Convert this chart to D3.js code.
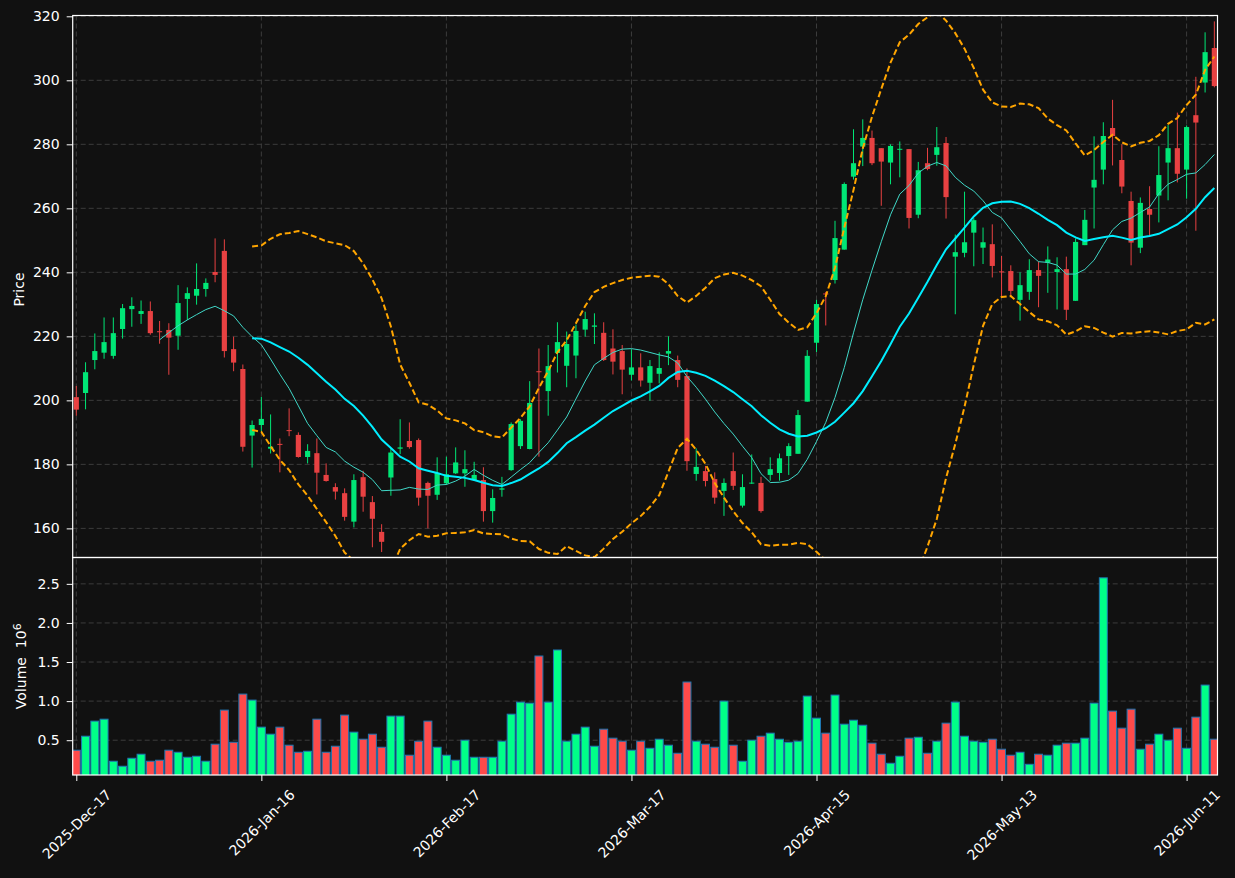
<!DOCTYPE html>
<html>
<head>
<meta charset="utf-8">
<script src="https://cdn.jsdelivr.net/npm/d3@7"></script>
<style>
body { margin: 0; background: #111111; }
svg text { font-family: "DejaVu Sans", sans-serif; fill: #ffffff; }
</style>
</head>
<body>
<svg id="chart" width="1235" height="878"></svg>
<script>
// daily OHLC
var openP = [201.0,202.3,212.6,214.9,213.9,222.3,228.5,227.0,227.9,221.6,
222.0,220.2,231.7,232.7,234.8,240.1,246.7,216.0,209.8,189.0,
192.3,184.9,186.4,190.7,189.2,182.3,183.5,176.7,172.9,171.0,
162.1,176.0,168.2,158.9,175.9,184.9,187.3,187.6,174.2,170.5,
174.1,177.2,177.2,175.1,175.1,165.4,172.1,178.2,185.7,184.8,
209.1,202.9,214.8,210.8,214.0,222.1,223.0,221.1,216.2,215.4,
208.0,210.3,205.5,208.3,214.6,212.6,207.6,177.0,177.9,175.4,
171.7,177.9,167.1,174.1,174.2,176.7,177.3,182.6,183.3,199.6,
218.0,233.4,237.6,247.1,269.9,279.3,282.0,278.8,274.3,278.3,
278.5,258.0,274.1,276.7,280.4,244.9,246.1,252.4,247.7,248.8,
240.3,240.4,231.4,233.9,240.7,243.0,240.1,241.0,231.1,248.5,
266.5,272.1,285.1,275.1,262.3,247.7,259.8,264.0,274.3,278.8,
272.1,289.1,299.3,310.1];
var highP = [204.5,211.9,220.9,225.9,225.9,230.1,232.2,231.2,230.9,224.8,
224.1,236.0,235.3,242.8,238.1,250.6,250.3,219.9,211.2,193.7,
201.1,195.6,188.1,197.5,190.0,186.3,188.1,180.3,174.1,172.5,
176.9,178.0,170.1,161.3,185.0,194.1,193.1,188.1,174.6,182.2,
182.4,185.3,184.4,180.8,179.1,172.2,176.1,193.1,194.1,206.0,
216.2,217.3,224.4,221.5,223.7,227.7,227.2,224.4,222.2,217.3,
216.0,214.7,212.6,215.0,220.0,214.0,210.0,185.0,179.5,177.5,
175.6,183.7,176.9,183.1,176.1,182.2,183.4,186.6,197.0,215.7,
231.4,233.9,256.1,268.1,284.7,287.8,284.3,278.8,280.0,280.9,
278.5,274.5,278.9,285.4,282.3,251.8,265.2,256.9,254.0,255.0,
245.1,242.2,240.0,244.1,243.4,248.1,244.7,244.9,250.6,259.5,
282.5,286.9,293.9,280.0,265.2,263.4,266.9,279.4,286.0,289.9,
285.9,301.1,315.0,318.4];
var lowP = [195.2,197.2,209.7,213.0,213.0,219.3,223.0,223.9,220.5,217.7,
208.0,215.8,225.1,229.9,232.4,236.9,213.4,209.1,184.0,179.0,
190.2,183.4,177.5,188.8,182.1,180.3,170.6,174.6,169.0,162.4,
160.3,165.2,154.1,152.6,170.2,183.2,184.9,167.1,160.0,168.9,
173.6,177.0,173.0,174.8,162.1,161.8,169.9,178.0,184.8,184.7,
182.4,195.2,208.7,204.1,206.9,219.9,217.6,212.3,208.1,201.9,
206.2,204.3,199.9,205.3,211.0,204.1,178.0,174.9,173.1,167.7,
163.9,172.0,166.5,173.9,164.9,174.9,174.9,176.7,183.3,199.6,
215.1,223.4,236.5,247.1,269.0,273.2,273.5,260.8,267.5,269.7,
253.7,256.9,271.9,273.3,256.8,226.9,244.7,241.9,242.6,238.4,
232.0,232.6,224.9,231.4,229.1,233.6,228.4,225.1,231.1,248.5,
253.7,267.5,273.4,264.7,242.2,246.0,251.2,255.6,262.5,268.1,
263.0,253.0,296.2,297.8];
var closeP = [197.1,208.8,215.4,218.2,221.0,228.8,229.5,227.9,221.0,221.4,
219.6,230.4,233.5,234.8,236.7,239.2,215.4,211.8,185.5,192.3,
194.2,185.5,186.2,190.5,182.3,184.2,177.4,174.8,171.5,163.6,
175.1,169.9,163.0,155.8,183.7,185.3,185.4,169.6,170.2,177.3,
176.9,180.6,178.5,176.7,165.4,169.5,172.5,192.6,193.6,199.2,
208.8,210.7,218.2,217.6,221.7,225.4,223.4,212.6,212.1,209.6,
210.3,206.2,210.7,210.1,215.4,206.4,181.0,179.2,174.8,169.6,
174.2,173.3,172.9,174.3,165.4,178.5,181.9,185.7,195.4,213.9,
230.1,233.1,250.7,267.6,274.1,282.0,274.1,274.6,279.5,278.6,
257.0,271.9,272.3,279.1,263.5,246.3,249.4,256.3,249.4,242.0,
240.1,234.2,236.0,240.7,238.9,244.0,241.0,228.3,249.5,256.4,
268.9,282.6,282.6,266.8,249.3,261.7,258.0,270.4,278.8,270.8,
285.4,286.8,308.8,298.2];
// volume in millions
var volume = [0.372,0.551,0.744,0.769,0.231,0.167,0.269,0.321,0.231,0.244,
0.372,0.346,0.282,0.295,0.231,0.449,0.885,0.474,1.09,1.013,
0.667,0.577,0.667,0.436,0.346,0.359,0.769,0.346,0.423,0.821,
0.603,0.513,0.577,0.41,0.808,0.808,0.308,0.487,0.744,0.41,
0.308,0.244,0.5,0.282,0.282,0.282,0.487,0.833,0.987,0.974,
1.577,0.987,1.654,0.487,0.577,0.667,0.423,0.641,0.526,0.487,
0.372,0.487,0.397,0.513,0.436,0.333,1.244,0.487,0.449,0.41,
1.0,0.436,0.231,0.5,0.551,0.59,0.513,0.474,0.487,1.064,
0.782,0.59,1.077,0.705,0.756,0.692,0.462,0.321,0.205,0.295,
0.526,0.538,0.333,0.487,0.718,0.987,0.551,0.487,0.474,0.513,
0.385,0.308,0.346,0.192,0.321,0.308,0.436,0.462,0.462,0.526,
0.974,2.577,0.872,0.654,0.897,0.385,0.449,0.577,0.5,0.654,
0.397,0.795,1.205,0.513];

var holidays = ["2025-12-25","2026-01-01","2026-01-19","2026-02-16","2026-04-03","2026-05-25"];
var firstDay = "2025-12-17";
var tickIdx = [0, 20, 40, 60, 80, 100, 120];
var priceTicks = [160, 180, 200, 220, 240, 260, 280, 300, 320];
var volTicks = [0.5, 1.0, 1.5, 2.0, 2.5];

// trading calendar
var parse = d3.timeParse("%Y-%m-%d"), ymd = d3.timeFormat("%Y-%m-%d");
var tickFmt = d3.timeFormat("%Y-%b-%d");
var dates = [];
var day = parse(firstDay);
while (dates.length < closeP.length) {
  var wd = day.getDay();
  if (wd != 0 && wd != 6 && holidays.indexOf(ymd(day)) < 0) dates.push(day);
  day = d3.timeDay.offset(day, 1);
}

// indicators from closes
function rolling(arr, n, fn) {
  return arr.map(function(v, i) { return i < n - 1 ? null : fn(arr.slice(i - n + 1, i + 1)); });
}
var ma10 = rolling(closeP, 10, d3.mean);
var ma20 = rolling(closeP, 20, d3.mean);
var sd20 = rolling(closeP, 20, function(a) {
  var m = d3.mean(a);
  return Math.sqrt(d3.mean(a, function(v) { return (v - m) * (v - m); }));
});
var upper = ma20.map(function(m, i) { return m == null ? null : m + 2 * sd20[i]; });
var lower = ma20.map(function(m, i) { return m == null ? null : m - 2 * sd20[i]; });

var L = 72.7, R = 1217.5, pTop = 15.5, pBot = 557.5, vBot = 775;
var upColor = "#00e676", downColor = "#e84142";
var volUp = "#00ff88", volDown = "#ff4a4a";
var FONT = '"DejaVu Sans", sans-serif';

var svg = d3.select("#chart");
svg.append("rect").attr("width", 1235).attr("height", 878).attr("fill", "#111111");

var x = d3.scaleLinear().domain([-0.39, 123.34]).range([L, R]);
var step = x(1) - x(0);
var yP = d3.scaleLinear().domain([150.9, 320.25]).range([pBot, pTop]);
var yV = d3.scaleLinear().domain([0.055, 2.837]).range([vBot, pBot]);

var defs = svg.append("defs");
defs.append("clipPath").attr("id", "clipP").append("rect")
  .attr("x", L).attr("y", pTop).attr("width", R - L).attr("height", pBot - pTop);
defs.append("clipPath").attr("id", "clipV").append("rect")
  .attr("x", L).attr("y", pBot).attr("width", R - L).attr("height", vBot - pBot);

var gridColor = "#3c3c3c";
// grids
var grid = svg.append("g");
grid.selectAll(".hp").data(priceTicks).join("line")
  .attr("x1", L).attr("x2", R).attr("y1", d => yP(d)).attr("y2", d => yP(d));
grid.selectAll(".hv").data(volTicks).join("line").attr("class", "hv")
  .attr("x1", L).attr("x2", R).attr("y1", d => yV(d)).attr("y2", d => yV(d));
grid.selectAll(".vx").data(tickIdx).join("line").attr("class", "vx")
  .attr("x1", d => x(d)).attr("x2", d => x(d)).attr("y1", pTop).attr("y2", vBot);
grid.selectAll("line").attr("stroke", gridColor).attr("stroke-width", 1).attr("stroke-dasharray", "5,3");

var idx = d3.range(closeP.length);

// candles
var pg = svg.append("g").attr("clip-path", "url(#clipP)");
var cg = pg.append("g").selectAll("g").data(idx).join("g")
  .attr("fill", i => closeP[i] >= openP[i] ? upColor : downColor)
  .attr("stroke", i => closeP[i] >= openP[i] ? upColor : downColor);
cg.append("line")
  .attr("x1", i => x(i)).attr("x2", i => x(i))
  .attr("y1", i => yP(highP[i])).attr("y2", i => yP(lowP[i]))
  .attr("stroke-width", 1);
cg.append("rect")
  .attr("stroke", "none")
  .attr("x", i => x(i) - step * 0.28)
  .attr("width", step * 0.56)
  .attr("y", i => yP(Math.max(openP[i], closeP[i])))
  .attr("height", i => Math.max(1, Math.abs(yP(openP[i]) - yP(closeP[i]))));

// bands and moving averages
var line = series => d3.line().defined(d => d != null)
  .x((d, i) => x(i)).y(d => yP(d))(series);
pg.append("path").attr("d", line(upper)).attr("fill", "none")
  .attr("stroke", "#ffa500").attr("stroke-width", 2).attr("stroke-dasharray", "6,3");
pg.append("path").attr("d", line(lower)).attr("fill", "none")
  .attr("stroke", "#ffa500").attr("stroke-width", 2).attr("stroke-dasharray", "6,3");
pg.append("path").attr("d", line(ma10)).attr("fill", "none")
  .attr("stroke", "#40d8c8").attr("stroke-width", 1);
pg.append("path").attr("d", line(ma20)).attr("fill", "none")
  .attr("stroke", "#00eeff").attr("stroke-width", 2);

// volume bars
var vg = svg.append("g").attr("clip-path", "url(#clipV)");
vg.selectAll("rect").data(idx).join("rect")
  .attr("x", i => x(i) - step * 0.43)
  .attr("width", step * 0.86)
  .attr("y", i => yV(volume[i]))
  .attr("height", i => yV(0) - yV(volume[i]))
  .attr("fill", i => closeP[i] >= openP[i] ? volUp : volDown)
  .attr("stroke", "#1f77b4").attr("stroke-width", 1);

// axes
function styleAxis(g) {
  g.attr("font-family", null).attr("font-size", null);
  g.select(".domain").remove();
  g.selectAll(".tick line").attr("stroke", "#ffffff");
  g.selectAll(".tick text").attr("fill", "#ffffff")
    .style("font-family", FONT).style("font-size", "14px");
}
svg.append("g").attr("transform", `translate(${L},0)`)
  .call(d3.axisLeft(yP).tickValues(priceTicks).tickSize(6).tickPadding(7))
  .call(styleAxis);
svg.append("g").attr("transform", `translate(${L},0)`)
  .call(d3.axisLeft(yV).tickValues(volTicks).tickFormat(d3.format(".1f")).tickSize(6).tickPadding(7))
  .call(styleAxis);
var xa = svg.append("g").attr("transform", `translate(0,${vBot})`)
  .call(d3.axisBottom(x).tickValues(tickIdx).tickFormat(i => tickFmt(dates[i])).tickSize(6))
  .call(styleAxis);
xa.selectAll(".tick text").each(function() {
  var t = d3.select(this);
  var w = this.getComputedTextLength();
  var h = (w + 15) * Math.SQRT1_2;
  t.attr("text-anchor", "middle").attr("dy", "0.35em").attr("y", 0)
    .attr("transform", `translate(0,${12 + h / 2}) rotate(-45)`);
});

// panel borders
[[pTop, pBot], [pBot, vBot]].forEach(function(p) {
  svg.append("rect").attr("x", L).attr("y", p[0]).attr("width", R - L).attr("height", p[1] - p[0])
    .attr("fill", "none").attr("stroke", "#ffffff").attr("stroke-width", 1.2);
});

// axis titles
svg.append("text").attr("transform", `translate(24,${(pTop + pBot) / 2 + 3}) rotate(-90)`)
  .attr("text-anchor", "middle").style("font-family", FONT).style("font-size", "14px").text("Price");
var vt = svg.append("text").attr("transform", `translate(26,${(pBot + vBot) / 2}) rotate(-90)`)
  .attr("text-anchor", "middle").style("font-family", FONT).style("font-size", "14px");
vt.append("tspan").text("Volume\u00a0\u00a010");
vt.append("tspan").attr("dy", "-0.5em").style("font-size", "11px").text("6");
</script>
</body>
</html>
